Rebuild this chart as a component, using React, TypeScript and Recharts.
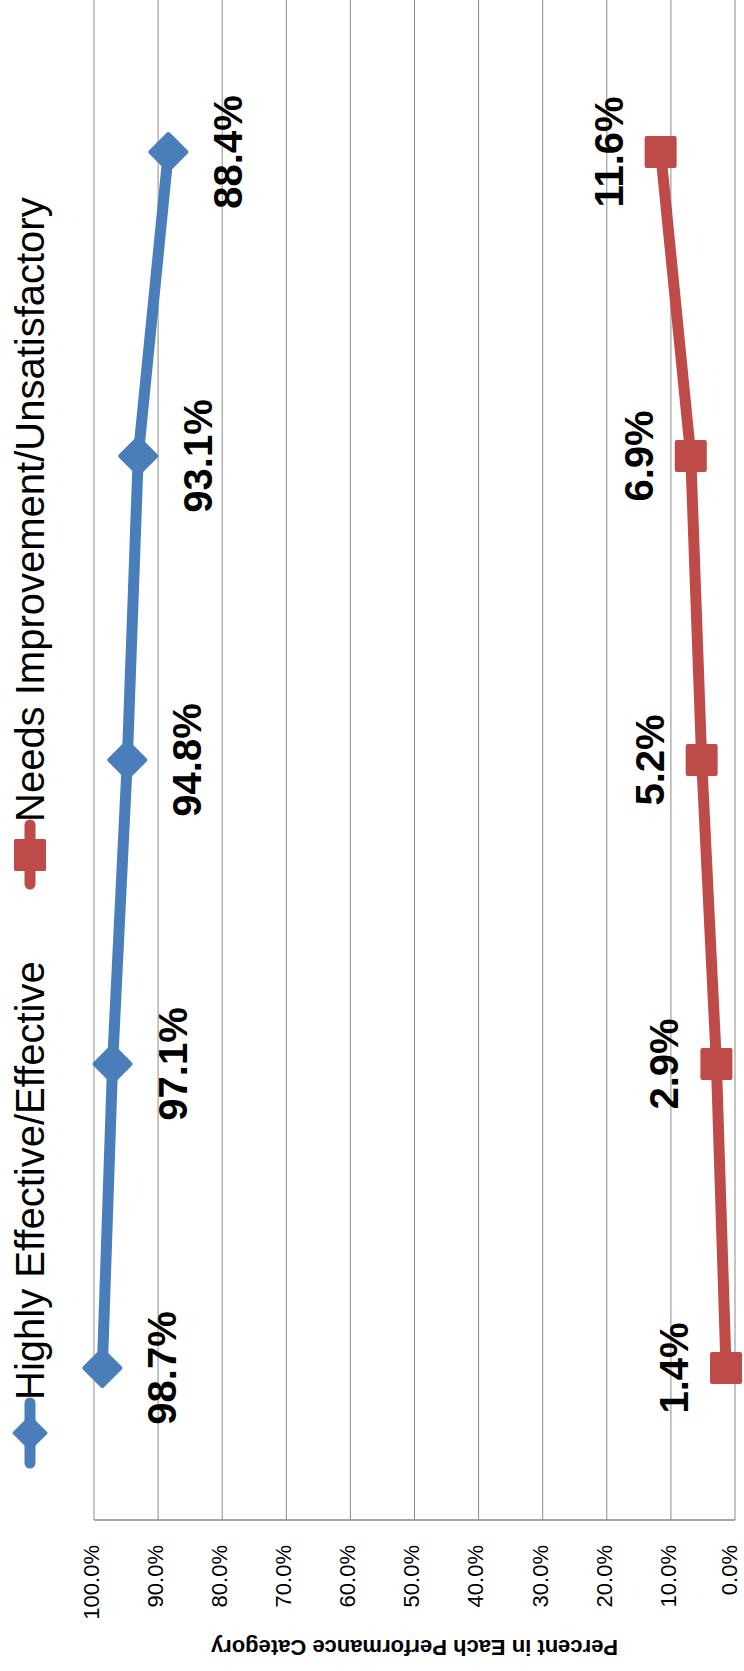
import React from 'react';
import { LineChart, Line, XAxis, YAxis, CartesianGrid, LabelList } from 'recharts';

// Survey categories (the category axis labels sit outside the visible area)
const categories = ['A', 'B', 'C', 'D', 'E'];
const effectiveValues = [98.7, 97.1, 94.8, 93.1, 88.4];
const needsValues = [1.4, 2.9, 5.2, 6.9, 11.6];
const valueTicks = [0, 10, 20, 30, 40, 50, 60, 70, 80, 90, 100];
const seriesNames = ['Highly Effective/Effective', 'Needs Improvement/Unsatisfactory'];
const axisTitle = 'Percent in Each Performance Category';

const BLUE = '#4a7ebb';
const RED = '#be4b48';
const GRID = '#8a8a8a';
const FONT = '"Liberation Sans", Arial, sans-serif';

const data = categories.map((category, i) => ({
  category,
  effective: effectiveValues[i],
  needs: needsValues[i],
}));

const fmt = (v: number) => `${Number(v).toFixed(1)}%`;

// The chart is laid out upright, then the whole thing is turned a quarter turn counter-clockwise.
const W = 1671;
const H = 744;

const renderDiamond = (props: any) => {
  const { cx, cy, index } = props;
  if (cx == null || cy == null) return <g key={`d-${index}`} />;
  const r = 18;
  return (
    <polygon
      key={`d-${index}`}
      points={`${cx},${cy - r} ${cx + r},${cy} ${cx},${cy + r} ${cx - r},${cy}`}
      fill={BLUE}
      stroke={BLUE}
      strokeWidth={4}
      strokeLinejoin="round"
    />
  );
};

const renderSquare = (props: any) => {
  const { cx, cy, index } = props;
  if (cx == null || cy == null) return <g key={`s-${index}`} />;
  const h = 14;
  return (
    <rect
      key={`s-${index}`}
      x={cx - h}
      y={cy - h}
      width={h * 2}
      height={h * 2}
      fill={RED}
      stroke={RED}
      strokeWidth={4}
      strokeLinejoin="round"
    />
  );
};

const makeLabel = (offset: number) => (props: any) => {
  const x = props.x ?? props.viewBox?.x;
  const y = props.y ?? props.viewBox?.y;
  if (x == null || y == null) return null;
  return (
    <text
      x={x}
      y={y + offset}
      textAnchor="middle"
      fontSize={40}
      fontWeight="bold"
      fontFamily={FONT}
      fill="#000"
    >
      {fmt(props.value)}
    </text>
  );
};

const labelBelow = makeLabel(74);
const labelAbove = makeLabel(-38);

// Value-axis tick, right-aligned against the axis; the bottom one is nudged up to stay on the page
const ValueTick = (props: any) => {
  const { x, y, payload } = props;
  const dy = payload.value === 0 ? '0.08em' : '0.22em';
  return (
    <text x={x} y={y} dy={dy} textAnchor="end" fontSize={22} fontFamily={FONT} fill="#000">
      {fmt(payload.value)}
    </text>
  );
};

function LegendOverlay() {
  const cy = 30;
  const textY = cy + 0.355 * 40;
  const d = 16;
  return (
    <svg width={W} height={80} style={{ position: 'absolute', left: 0, top: 0 }}>
      <line x1={208} x2={268} y1={cy} y2={cy} stroke={BLUE} strokeWidth={11} strokeLinecap="round" />
      <polygon
        points={`238,${cy - d} ${238 + d},${cy} 238,${cy + d} ${238 - d},${cy}`}
        fill={BLUE}
        stroke={BLUE}
        strokeWidth={3}
        strokeLinejoin="round"
      />
      <text x={271} y={textY} fontSize={40} fontFamily={FONT} fill="#000">
        {seriesNames[0]}
      </text>
      <line x1={787} x2={846} y1={cy} y2={cy} stroke={RED} strokeWidth={11} strokeLinecap="round" />
      <rect x={816 - 14.5} y={cy - 14.5} width={29} height={29} fill={RED} stroke={RED} strokeWidth={3} strokeLinejoin="round" />
      <text x={849} y={textY} fontSize={40} fontFamily={FONT} fill="#000">
        {seriesNames[1]}
      </text>
    </svg>
  );
}

export default function App() {
  return (
    <div
      style={{
        position: 'absolute',
        left: 0,
        top: 0,
        width: H,
        height: W,
        overflow: 'hidden',
        background: '#fff',
      }}
    >
      <div
        style={{
          position: 'absolute',
          left: 0,
          top: 0,
          width: W,
          height: H,
          transformOrigin: '0 0',
          transform: `translateY(${W}px) rotate(-90deg)`,
        }}
      >
        <LineChart width={W} height={H} data={data} margin={{ top: 94, right: 0, bottom: 9, left: 0 }}>
          <CartesianGrid vertical={false} stroke={GRID} strokeWidth={1} />
          <XAxis dataKey="category" hide padding={{ left: 152, right: 152 }} />
          <YAxis
            width={151}
            domain={[0, 100]}
            ticks={valueTicks}
            interval={0}
            tickFormatter={fmt}
            tickLine={false}
            tickSize={0}
            tickMargin={25}
            axisLine={{ stroke: GRID, strokeWidth: 1.5 }}
            tick={<ValueTick />}
            label={{
              value: axisTitle,
              angle: -90,
              position: 'insideLeft',
              offset: 23,
              fontSize: 22,
              fontWeight: 'bold',
              fill: '#000',
              fontFamily: FONT,
              style: { textAnchor: 'middle', fontWeight: 'bold', fontSize: 22, fill: '#000', fontFamily: FONT },
            }}
          />
          <Line
            dataKey="effective"
            name={seriesNames[0]}
            stroke={BLUE}
            strokeWidth={11}
            strokeLinejoin="round"
            dot={renderDiamond}
            activeDot={false}
            isAnimationActive={false}
          >
            <LabelList dataKey="effective" content={labelBelow} />
          </Line>
          <Line
            dataKey="needs"
            name={seriesNames[1]}
            stroke={RED}
            strokeWidth={11}
            strokeLinejoin="round"
            dot={renderSquare}
            activeDot={false}
            isAnimationActive={false}
          >
            <LabelList dataKey="needs" content={labelAbove} />
          </Line>
        </LineChart>
        <LegendOverlay />
      </div>
    </div>
  );
}
